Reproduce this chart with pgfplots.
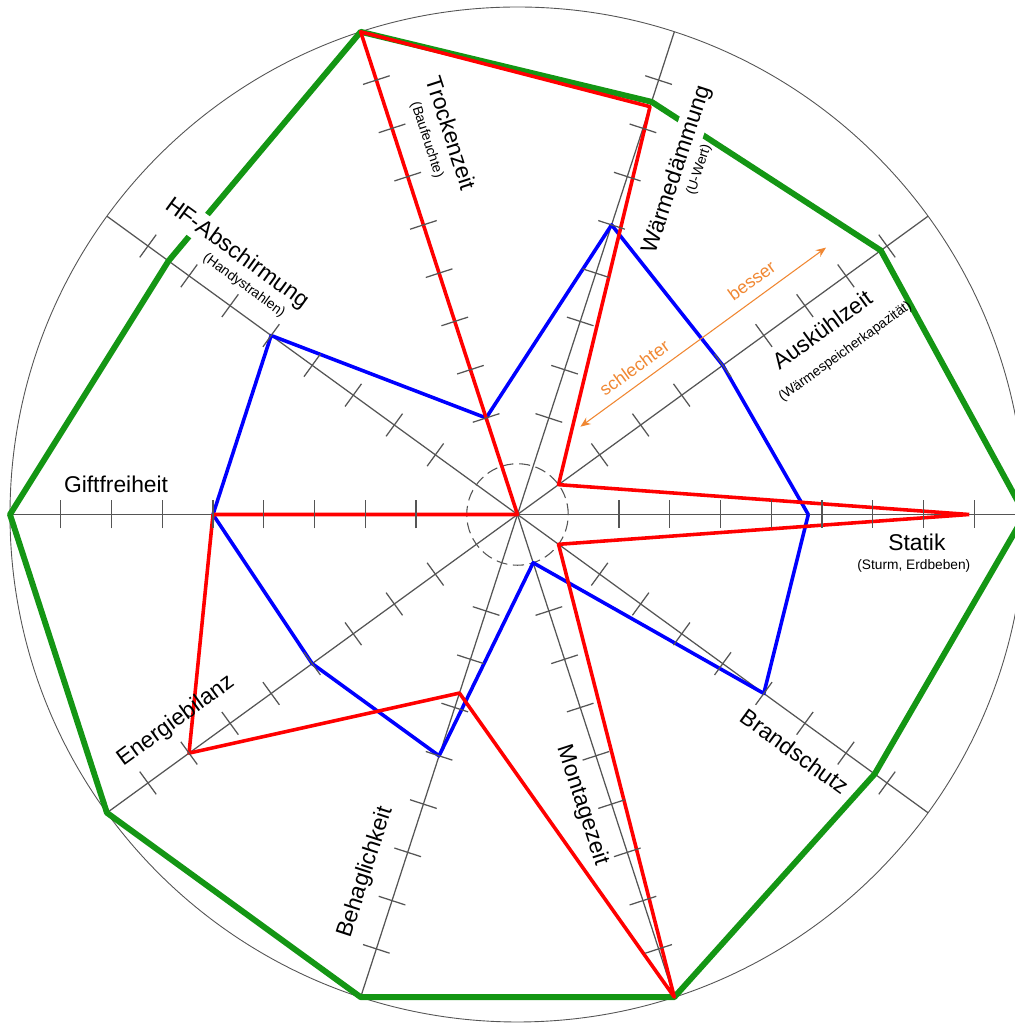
\documentclass[border=0pt]{standalone}
\usepackage{pgfplots}
\pgfplotsset{compat=1.18}
\usepgfplotslibrary{polar}
\usetikzlibrary{arrows.meta}
\usepackage{fontspec}
\setmainfont{Liberation Sans}
\definecolor{cred}{RGB}{255,0,0}
\definecolor{cblue}{RGB}{0,0,255}
\definecolor{cgreen}{RGB}{20,150,20}
\definecolor{corange}{RGB}{240,135,50}
\definecolor{cgray}{RGB}{85,85,85}
\newcommand{\mainf}{\fontsize{12.8}{15}\selectfont}
\newcommand{\subf}{\fontsize{7.7}{9}\selectfont}
\newcommand{\orf}{\fontsize{10}{12}\selectfont}
\begin{document}
\begin{tikzpicture}
\begin{axis}[
  x=1cm, y=1cm,
  xmin=-10.197, xmax=9.803, ymin=-10.02, ymax=10.138,
  hide axis, clip=true,
]
\draw[cgray, line width=0.5pt] (axis cs:0,0) circle[radius=10cm];
\pgfplotsinvokeforeach{0,36,72,108,144,180,216,252,288,324}{
  \addplot[cgray, line width=0.7pt, data cs=polar] coordinates {(#1,0) (#1,10)};
  \addplot[cgray, line width=0.7pt, data cs=polar, only marks, mark=|, mark size=2.76mm, mark options={rotate=#1}]
    coordinates {(#1,2) (#1,3) (#1,4) (#1,5) (#1,6) (#1,7) (#1,8) (#1,9)};
}
\draw[cgray, line width=0.6pt, dash pattern=on 2.2mm off 1.1mm] (axis cs:0,0) circle[radius=1cm];
% green
\addplot[cgreen, line width=3.3pt, line join=round, data cs=polar] coordinates {
 (0,10) (36,8.85) (72,8.55) (108,10) (144,8.5) (180,10) (216,10) (252,10) (288,10) (324,8.7) (0,10)};
% blue
\addplot[cblue, line width=2pt, line join=round, data cs=polar] coordinates {
 (0,5.73) (36,5) (72,6) (108,2) (144,6) (180,6) (216,5) (252,5) (288,1) (324,6) (0,5.73)};
% red
\addplot[cred, line width=2pt, line join=round, data cs=polar] coordinates {
 (0,8.9) (36,1) (72,8.45) (108,10) (144,0) (180,6) (216,8) (252,3.7) (288,10) (324,1) (0,8.9)};
% arrow
\draw[corange, line width=0.6pt, {Stealth[length=2mm,width=1.6mm]}-{Stealth[length=2mm,width=1.6mm]}] (axis cs:1.24,1.73) -- (axis cs:6.08,5.26);
\node[corange, rotate=36, font=\orf] at (axis cs:4.61,4.61) {besser};
\node[corange, rotate=36, font=\orf] at (axis cs:2.30,2.89) {schlechter};
% labels
\node[font=\mainf, inner sep=1pt] at (axis cs:7.87,-0.55) {Statik};
\node[font=\subf, inner sep=1pt] at (axis cs:7.81,-1.02) {(Sturm, Erdbeben)};
\node[font=\mainf, rotate=36, inner sep=1pt] at (axis cs:6.0,3.64) {Auskühlzeit};
\node[font=\subf, rotate=36, inner sep=1pt] at (axis cs:6.46,3.21) {(Wärmespeicherkapazität)};
\node[font=\mainf, rotate=72, fill=white, inner sep=2pt] at (axis cs:3.15,6.79) {Wärmedämmung};
\node[font=\subf, rotate=72, inner sep=1pt] at (axis cs:3.58,6.79) {(U-Wert)};
\node[font=\mainf, rotate=-72, inner sep=1pt] at (axis cs:-1.30,7.52) {Trockenzeit};
\node[font=\subf, rotate=-72, inner sep=1pt] at (axis cs:-1.79,7.38) {(Baufeuchte)};
\node[font=\mainf, rotate=-36, fill=white, inner sep=2pt] at (axis cs:-5.53,5.14) {HF-Abschirmung};
\node[font=\subf, rotate=-36, inner sep=1pt] at (axis cs:-5.39,4.51) {(Handystrahlen)};
\node[font=\mainf, inner sep=1pt] at (axis cs:-7.91,0.59) {Giftfreiheit};
\node[font=\mainf, rotate=36, inner sep=1pt] at (axis cs:-6.73,-4.07) {Energiebilanz};
\node[font=\mainf, rotate=72, inner sep=1pt] at (axis cs:-2.99,-7.05) {Behaglichkeit};
\node[font=\mainf, rotate=-72, inner sep=1pt] at (axis cs:1.28,-5.73) {Montagezeit};
\node[font=\mainf, rotate=-36, inner sep=1pt] at (axis cs:5.47,-4.67) {Brandschutz};
\end{axis}
\pgfresetboundingbox
\useasboundingbox (current axis.south west) rectangle (current axis.north east);
\end{tikzpicture}
\end{document}
